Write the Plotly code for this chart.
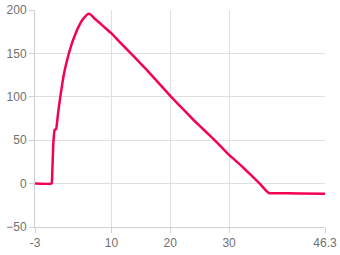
import plotly.graph_objects as go

x_vals = [-3, -0.2, -0.1, 0.1, 0.35, 0.6, 0.9, 1.3, 1.8, 2.3, 2.8, 3.3, 3.9, 4.5, 5.1, 5.6, 6.0,
          6.5, 7.0, 8.0, 9.0, 10.0, 11.0, 12.0, 13.0, 14.0, 16.0, 18.0, 20.0, 22.0, 24.0, 26.0,
          28.0, 30.0, 32.0, 34.0, 35.2, 36.0, 36.8, 38.0, 42.0, 46.3]
y_vals = [0, 0, 5, 45, 62, 63, 80, 100, 122, 138, 151, 162, 173, 182, 189, 193, 195.5,
          194.5, 191, 185, 179, 173, 166, 159, 152, 145, 131, 116, 101, 87, 73, 60,
          47, 33, 21, 8, 0, -6, -11, -11, -11.5, -11.7]

x_ticks = [-3, 10, 20, 30, 46.3]
x_tick_text = ["-3", "10", "20", "30", "46.3"]
y_ticks = [-50, 0, 50, 100, 150, 200]

fig = go.Figure()
fig.add_trace(go.Scatter(x=x_vals, y=y_vals, mode="lines",
                         line=dict(color="#f50057", width=2.5, shape="spline", smoothing=0.3),
                         hoverinfo="skip", showlegend=False))

axis_common = dict(showgrid=True, gridcolor="#e0e0e0", gridwidth=1, zeroline=False,
                   showline=True, linecolor="#d0d0d0", linewidth=1,
                   ticks="outside", ticklen=5, tickcolor="#d0d0d0", automargin=False,
                   tickfont=dict(family="Liberation Sans, Arial, sans-serif", size=12, color="#707070"))

fig.update_layout(
    width=340, height=255,
    margin=dict(l=35, r=15, t=10, b=28),
    paper_bgcolor="white", plot_bgcolor="white",
    xaxis=dict(range=[-3, 46.3], tickvals=x_ticks, ticktext=x_tick_text, **axis_common),
    yaxis=dict(range=[-50, 200], tickvals=y_ticks, **axis_common),
)

fig.write_html("out.html")
